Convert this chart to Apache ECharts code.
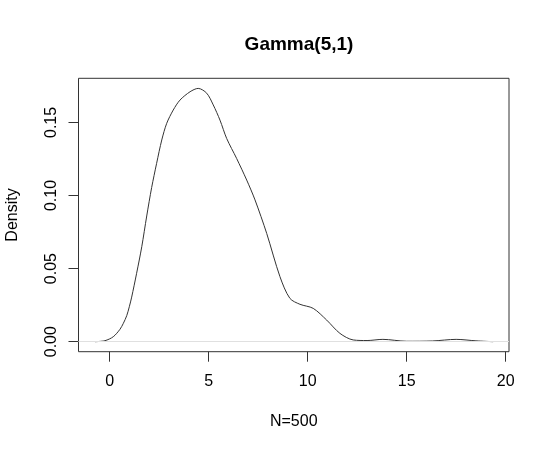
<!DOCTYPE html>
<html>
<head>
<meta charset="utf-8">
<script src="https://cdn.jsdelivr.net/npm/echarts@6/dist/echarts.min.js"></script>
<style>
  html, body { margin: 0; padding: 0; background: #fff; }
  #chart { width: 550px; height: 450px; }
</style>
</head>
<body>
<div id="chart"></div>
<script>
// density estimate
const xs = [-0.74, -0.24, 0.18, 0.52, 0.69, 0.86, 0.99, 1.11, 1.36, 1.62, 1.87, 2.12, 2.37, 2.63, 2.88, 3.21, 3.55,
  4.06, 4.47, 4.90, 5.23, 5.57, 5.91, 6.41, 6.92, 7.34, 7.93, 8.60, 9.10, 9.61, 10.28, 10.96, 11.63, 12.30, 13.00,
  13.80, 15.00, 16.30, 17.50, 18.50, 19.37]
const ys = [0.0000, 0.0007, 0.0034, 0.0085, 0.0126, 0.0178, 0.0239, 0.0305, 0.0468, 0.0650, 0.0860, 0.1055, 0.1220,
  0.1380, 0.1494, 0.1585, 0.1653, 0.1710, 0.1733, 0.1700, 0.1620, 0.1516, 0.1390, 0.1254, 0.1106, 0.0970, 0.0741,
  0.0445, 0.0297, 0.0256, 0.0228, 0.0148, 0.0057, 0.0012, 0.0008, 0.0016, 0.0003, 0.0005, 0.0016, 0.0006, 0.0000]
const xTicks = [0, 5, 10, 15, 20]
const yTicks = [0, 0.05, 0.10, 0.15]

const font = 'Liberation Sans, Arial, Helvetica, sans-serif'
let chart = echarts.init(document.getElementById('chart'), null, { renderer: 'canvas' })
chart.setOption({
  animation: false,
  title: {
    text: 'Gamma(5,1)',
    left: 294,
    top: 30,
    textAlign: 'center',
    textStyle: { fontFamily: font, fontSize: 19, fontWeight: 'bold', color: '#000' }
  },
  grid: {
    left: 78.5,
    right: 41,
    top: 78.3,
    bottom: 98.3,
    outerBoundsMode: 'none',
    containLabel: false,
    show: true,
    borderColor: '#333',
    borderWidth: 1,
    backgroundColor: 'transparent'
  },
  xAxis: {
    type: 'value',
    min: -1.576,
    max: 20.17,
    name: 'N=500',
    nameLocation: 'middle',
    nameGap: 62,
    nameTextStyle: { fontFamily: font, fontSize: 16, color: '#000' },
    axisLine: { show: false, onZero: false },
    splitLine: { show: false },
    axisTick: { show: true, inside: false, length: 10, customValues: xTicks, lineStyle: { color: '#333' } },
    axisLabel: { customValues: xTicks, margin: 22, fontFamily: font, fontSize: 16, color: '#000' }
  },
  yAxis: {
    type: 'value',
    min: -0.00684,
    max: 0.1802,
    name: 'Density',
    nameLocation: 'middle',
    nameGap: 58,
    nameRotate: 90,
    nameTextStyle: { fontFamily: font, fontSize: 16, color: '#000' },
    axisLine: { show: false, onZero: false },
    splitLine: { show: false },
    axisTick: { show: true, inside: false, length: 10, customValues: yTicks, lineStyle: { color: '#333' } },
    axisLabel: {
      customValues: yTicks,
      rotate: 90,
      margin: 19,
      fontFamily: font,
      fontSize: 16,
      color: '#000',
      formatter: v => v.toFixed(2)
    }
  },
  series: [{
    type: 'line',
    data: xs.map((x, i) => [x, ys[i]]),
    smooth: 0.3,
    showSymbol: false,
    lineStyle: { color: '#333', width: 1 },
    markLine: {
      silent: true,
      symbol: 'none',
      label: { show: false },
      lineStyle: { color: '#e0e0e0', width: 1, type: 'solid' },
      data: [{ yAxis: 0 }]
    }
  }]
})
</script>
</body>
</html>
